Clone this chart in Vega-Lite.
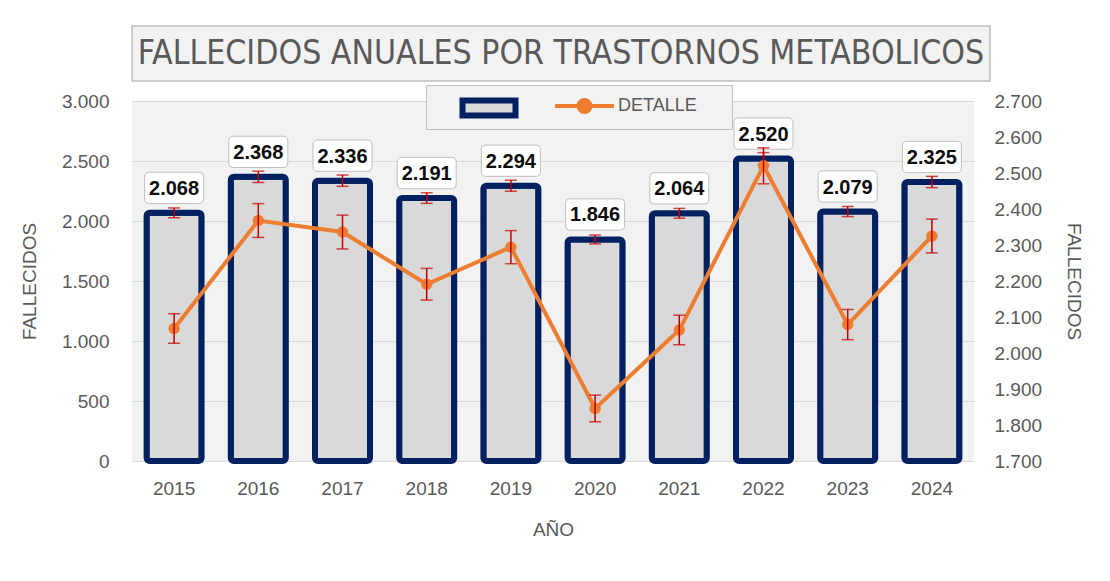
{
  "$schema": "https://vega.github.io/schema/vega-lite/v6.json",
  "autosize": {"type": "pad"},
  "padding": {"left": 20, "top": 25, "right": 10, "bottom": 10},
  "background": "white",
  "bounds": "flush",
  "spacing": 20,
  "config": {
    "locale": {"number": {"decimal": ",", "thousands": ".", "grouping": [3], "currency": ["", " €"]}},
    "view": {"fill": "#F2F2F2", "stroke": null},
    "font": "Liberation Sans",
    "axis": {"labelColor": "#595959", "titleColor": "#595959", "labelFont": "Liberation Sans", "titleFont": "Liberation Sans", "titleFontWeight": "normal", "domain": false, "ticks": false, "labelFontSize": 19, "titleFontSize": 19, "labelOverlap": false}
  },
  "vconcat": [
    {
      "width": 858,
      "height": 55,
      "view": {"fill": "#F2F2F2", "stroke": "#BFBFBF", "strokeWidth": 1.5},
      "data": {"values": [{"titulo": "FALLECIDOS ANUALES POR TRASTORNOS METABOLICOS"}]},
      "mark": {"type": "text", "font": "'DejaVu Sans Condensed', 'Liberation Sans', sans-serif", "fontSize": 33.5, "color": "#595959", "align": "center", "baseline": "middle"},
      "encoding": {"text": {"field": "titulo", "type": "nominal"}}
    },
    {
      "width": 842,
      "height": 360,
      "data": {"values": [
        {"anio": "2015", "valor": 2068, "lo": 2027, "hi": 2109},
        {"anio": "2016", "valor": 2368, "lo": 2321, "hi": 2415},
        {"anio": "2017", "valor": 2336, "lo": 2289, "hi": 2383},
        {"anio": "2018", "valor": 2191, "lo": 2147, "hi": 2235},
        {"anio": "2019", "valor": 2294, "lo": 2248, "hi": 2340},
        {"anio": "2020", "valor": 1846, "lo": 1809, "hi": 1883},
        {"anio": "2021", "valor": 2064, "lo": 2023, "hi": 2105},
        {"anio": "2022", "valor": 2520, "lo": 2470, "hi": 2570},
        {"anio": "2023", "valor": 2079, "lo": 2037, "hi": 2121},
        {"anio": "2024", "valor": 2325, "lo": 2278, "hi": 2372}
      ]},
      "layer": [
        {
          "layer": [
            {
              "mark": {"type": "bar", "size": 55, "fill": "#D9D9D9", "strokeWidth": 6, "cornerRadius": 3},
              "encoding": {
                "x": {"field": "anio", "type": "ordinal", "scale": {"paddingInner": 0.2, "paddingOuter": 0.1}, "title": "AÑO", "axis": {"labelAngle": 0, "labelPadding": 18, "titlePadding": 22}},
                "y": {"field": "valor", "type": "quantitative", "title": "FALLECIDOS", "scale": {"domain": [0, 3000]}, "axis": {"values": [0, 500, 1000, 1500, 2000, 2500, 3000], "format": ",d", "labelPadding": 23, "titlePadding": 22, "grid": true, "gridColor": "#D9D9D9", "gridWidth": 1}},
                "stroke": {"datum": " ", "type": "nominal", "scale": {"domain": [" "], "range": ["#002060"]},
                  "legend": {"orient": "none", "legendX": 344, "legendY": -6, "zindex": 2, "direction": "horizontal", "title": null, "padding": 0, "symbolOffset": 0, "symbolSize": 400, "symbolType": "M-2.65,-0.75 L2.65,-0.75 L2.65,0.75 L-2.65,0.75 Z", "symbolStrokeWidth": 6, "symbolFillColor": "#D9D9D9", "labelExpr": "''", "labelFontSize": 18}}
              }
            },
            {
              "mark": {"type": "errorbar", "color": "#C00000", "thickness": 1.5, "ticks": {"size": 12, "thickness": 1.5, "color": "#C00000"}},
              "encoding": {
                "x": {"field": "anio", "type": "ordinal"},
                "y": {"field": "lo", "type": "quantitative", "title": "FALLECIDOS"},
                "y2": {"field": "hi"}
              }
            },
            {
              "mark": {"type": "point", "shape": "M-0.84,-0.53 L0.84,-0.53 Q1,-0.53 1,-0.37 L1,0.37 Q1,0.53 0.84,0.53 L-0.84,0.53 Q-1,0.53 -1,0.37 L-1,-0.37 Q-1,-0.53 -0.84,-0.53 Z", "size": 3481, "filled": true, "fill": "#FFFFFF", "stroke": "#BFBFBF", "strokeWidth": 1, "opacity": 1, "yOffset": -25},
              "encoding": {
                "x": {"field": "anio", "type": "ordinal"},
                "y": {"field": "valor", "type": "quantitative", "title": "FALLECIDOS"}
              }
            },
            {
              "mark": {"type": "text", "fontSize": 20, "fontWeight": "bold", "color": "#0D0D0D", "baseline": "middle", "align": "center", "yOffset": -24},
              "encoding": {
                "x": {"field": "anio", "type": "ordinal"},
                "y": {"field": "valor", "type": "quantitative", "title": "FALLECIDOS"},
                "text": {"field": "valor", "type": "quantitative", "format": ",d"}
              }
            }
          ]
        },
        {
          "layer": [
            {
              "mark": {"type": "line", "color": "#ED7D31", "strokeWidth": 4, "point": {"filled": true, "size": 130, "color": "#ED7D31", "strokeWidth": 0}},
              "encoding": {
                "x": {"field": "anio", "type": "ordinal"},
                "y": {"field": "valor", "type": "quantitative", "title": "FALLECIDOS", "scale": {"domain": [1700, 2700]}, "axis": {"orient": "right", "values": [1700, 1800, 1900, 2000, 2100, 2200, 2300, 2400, 2500, 2600, 2700], "format": ",d", "labelPadding": 20, "titlePadding": 22, "titleAngle": 90, "grid": false, "labelOverlap": false, "labelSeparation": 0}},
                "stroke": {"datum": "DETALLE", "type": "nominal", "scale": {"domain": ["DETALLE"], "range": ["#ED7D31"]},
                  "legend": {"orient": "none", "legendX": 294, "legendY": -16, "zindex": 1, "direction": "horizontal", "title": null, "fillColor": "#F2F2F2", "strokeColor": "#BFBFBF", "padding": 9, "symbolOffset": 137.5, "labelOffset": 21.5, "symbolSize": 400, "symbolType": "M-2.95,0 L2.95,0 M-0.6,0 A0.6,0.6 0 1,1 0.6,0 A0.6,0.6 0 1,1 -0.6,0 Z", "symbolStrokeWidth": 4, "symbolFillColor": "#ED7D31", "labelFontSize": 18, "labelColor": "#595959", "labelFont": "Liberation Sans", "labelExpr": "'DETALLE\u2800\u2800'"}}
              }
            },
            {
              "mark": {"type": "errorbar", "color": "#C00000", "thickness": 1.5, "ticks": {"size": 12, "thickness": 1.5, "color": "#C00000"}},
              "encoding": {
                "x": {"field": "anio", "type": "ordinal"},
                "y": {"field": "lo", "type": "quantitative", "title": "FALLECIDOS", "axis": {"orient": "right", "values": [1700, 1800, 1900, 2000, 2100, 2200, 2300, 2400, 2500, 2600, 2700], "format": ",d", "labelPadding": 20, "titlePadding": 22, "titleAngle": 90, "grid": false, "labelOverlap": false, "labelSeparation": 0}},
                "y2": {"field": "hi"}
              }
            }
          ]
        }
      ],
      "resolve": {"scale": {"y": "independent", "stroke": "independent"}, "legend": {"stroke": "independent"}}
    }
  ]
}
